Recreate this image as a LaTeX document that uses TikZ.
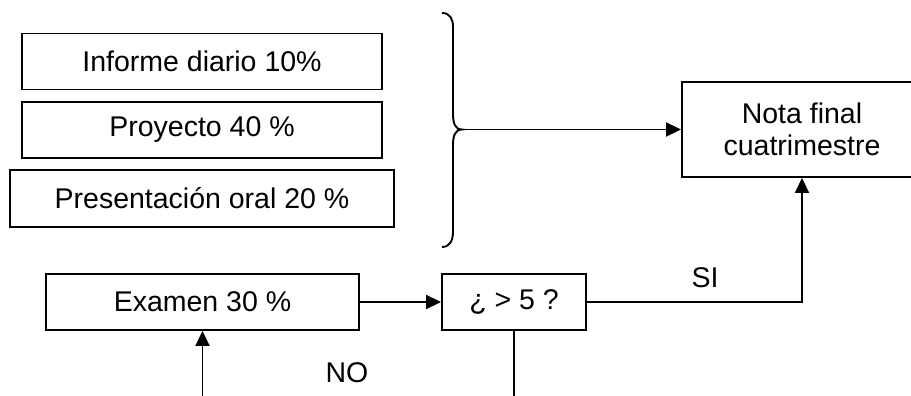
\documentclass[tikz,border=0pt]{standalone}
\usepackage{fontspec}
\setmainfont{Liberation Sans}
\usetikzlibrary{arrows.meta}
\tikzset{
  box/.style={draw, line width=1.9pt, inner sep=0pt, align=center, font=\fontsize{28.5}{32}\selectfont},
  lbl/.style={inner sep=0pt, font=\fontsize{28.5}{32}\selectfont},
  conn/.style={line width=1.9pt},
  arr/.style={conn, -{Triangle[length=15pt,width=14pt]}}
}
\begin{document}
\begin{tikzpicture}[x=1pt,y=-1pt]
\useasboundingbox (0,0) rectangle (911,396);
\node[box, minimum width=360pt, minimum height=56pt] (inf) at (202,61.5) {Informe diario 10\%};
\node[box, minimum width=360pt, minimum height=56pt] (proy) at (202,130) {Proyecto 40 \%};
\node[box, minimum width=384pt, minimum height=57pt] (pres) at (202,198.5) {Presentación oral 20 \%};
\node[box, minimum width=313pt, minimum height=56pt] (exam) at (202.5,302) {Examen 30 \%};
\node[box, minimum width=144pt, minimum height=56pt] (dec) at (514,302) {¿ > 5 ?};
\node[box, minimum width=240pt, minimum height=95pt] (nota) at (802,129.5) {Nota final\\cuatrimestre};
% brace
\coordinate (tip) at (462,129.5);
\draw[conn] (442,13) .. controls (450,13) and (453,19) .. (453,27) -- (453,114)
  .. controls (453,123) and (455,129.5) .. (tip)
  .. controls (455,129.5) and (453,136) .. (453,145) -- (453,232)
  .. controls (453,240) and (450,247) .. (442,247);
\draw[arr] (tip) -- (nota.west);
\draw[arr] (exam.east) -- (dec.west);
\draw[arr] (dec.east) -| (nota.south);
\node[lbl] (si) at (705,278) {SI};
\node[lbl] (no) at (347,373) {NO};
\coordinate (b1) at (202.5,396);
\coordinate (b2) at (514,396);
\draw[arr] (b1) -- (exam.south);
\draw[conn] (dec.south) -- (b2);
\end{tikzpicture}
\end{document}
